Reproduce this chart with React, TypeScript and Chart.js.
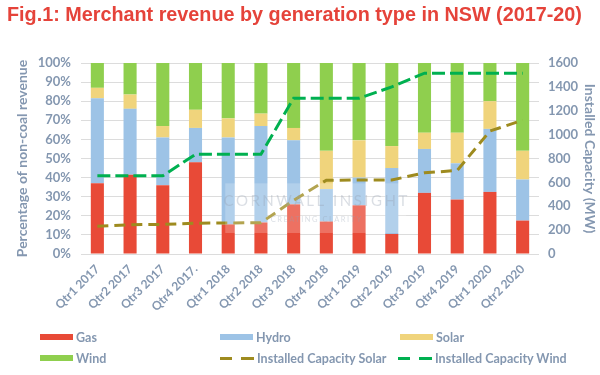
import React, { useEffect, useRef } from "react";
import { Chart, registerables } from "chart.js";

Chart.register(...registerables);

const categories = [
  "Qtr1 2017", "Qtr2 2017", "Qtr3 2017", "Qtr4 2017.", "Qtr1 2018", "Qtr2 2018", "Qtr3 2018",
  "Qtr4 2018", "Qtr1 2019", "Qtr2 2019", "Qtr3 2019", "Qtr4 2019", "Qtr1 2020", "Qtr2 2020",
];
const gas = [37, 41.5, 36, 48, 15.5, 16.5, 26, 17, 25.5, 10.5, 32, 28.5, 32.5, 17.5];
const hydro = [44.5, 34.5, 25, 18, 45.5, 50.5, 33.5, 17, 14.5, 34.5, 23, 19, 33, 21.5];
const solar = [5.5, 7.5, 6, 9.5, 10, 6.5, 6.5, 20, 19.5, 11.5, 8.5, 16, 14.5, 15];
const wind = [13, 16.5, 33, 24.5, 29, 26.5, 34, 46, 40.5, 43.5, 36.5, 36.5, 20, 46];
const capSolar = [232, 245, 248, 258, 260, 262, 450, 618, 620, 620, 680, 700, 1030, 1120];
const capWind = [655, 655, 655, 835, 835, 835, 1305, 1305, 1305, 1400, 1515, 1515, 1515, 1515];

const TEXT = "#8497b0";
const FONT = "Lato, 'Liberation Sans', sans-serif";
const C_GAS = "#e84a37";
const C_HYDRO = "#9dc3e6";
const C_SOLAR = "#f0d47c";
const C_WIND = "#8fcf4e";
const C_CAPSOLAR = "#9e8b1f";
const C_CAPWIND = "#00b050";

const watermark = {
  id: "watermark",
  afterDatasetsDraw(chart: any) {
    const { ctx, chartArea } = chart;
    const w = chartArea.right - chartArea.left;
    const h = chartArea.bottom - chartArea.top;
    const x0 = chartArea.left + w * 0.315;
    const x1 = chartArea.left + w * 0.71;
    const y0 = chartArea.top + h * 0.63;
    const y1 = chartArea.top + h * 0.89;
    ctx.save();
    ctx.fillStyle = "rgba(255,255,255,0.22)";
    ctx.fillRect(x0, y0, x1 - x0, y1 - y0);
    ctx.fillStyle = "rgba(150,160,178,0.35)";
    ctx.textAlign = "center";
    ctx.textBaseline = "middle";
    ctx.font = `15px ${FONT}`;
    (ctx as any).letterSpacing = "2.5px";
    ctx.fillText("CORNWALL INSIGHT", (x0 + x1) / 2 + 1, y0 + (y1 - y0) * 0.36);
    ctx.font = `7.5px ${FONT}`;
    (ctx as any).letterSpacing = "1.5px";
    ctx.fillText("CREATING CLARITY", (x0 + x1) / 2 + 1, y0 + (y1 - y0) * 0.72);
    ctx.restore();
  },
};

function Swatch({ color }: { color: string }) {
  return <div style={{ width: 33, height: 6, background: color }} />;
}
function Dash({ color }: { color: string }) {
  return (
    <div style={{ width: 34, height: 3, position: "relative" }}>
      <div style={{ position: "absolute", left: 0, top: 0, width: 12, height: 3, background: color }} />
      <div style={{ position: "absolute", left: 21, top: 0, width: 13, height: 3, background: color }} />
    </div>
  );
}

function LegendItem({ x, y, mark, label }: { x: number; y: number; mark: React.ReactNode; label: string }) {
  return (
    <div
      style={{
        position: "absolute",
        left: x,
        top: y - 9,
        height: 18,
        display: "flex",
        alignItems: "center",
        gap: 3,
        whiteSpace: "nowrap",
        font: `bold 12.5px ${FONT}`,
        color: TEXT,
      }}
    >
      {mark}
      <span>{label}</span>
    </div>
  );
}

export default function App() {
  const ref = useRef<HTMLCanvasElement>(null);
  useEffect(() => {
    if (!ref.current) return;
    const chart = new Chart(ref.current, {
      data: {
        labels: categories,
        datasets: [
          { type: "line", label: "Installed Capacity Solar", data: capSolar, yAxisID: "y1", borderColor: C_CAPSOLAR, borderWidth: 3, borderDash: [11, 6], pointRadius: 0, fill: false, order: 0 },
          { type: "line", label: "Installed Capacity Wind", data: capWind, yAxisID: "y1", borderColor: C_CAPWIND, borderWidth: 3, borderDash: [13, 5], pointRadius: 0, fill: false, order: 0 },
          { type: "bar", label: "Gas", data: gas, backgroundColor: C_GAS, yAxisID: "y", order: 1 },
          { type: "bar", label: "Hydro", data: hydro, backgroundColor: C_HYDRO, yAxisID: "y", order: 1 },
          { type: "bar", label: "Solar", data: solar, backgroundColor: C_SOLAR, yAxisID: "y", order: 1 },
          { type: "bar", label: "Wind", data: wind, backgroundColor: C_WIND, yAxisID: "y", order: 1 },
        ] as any,
      },
      options: {
        responsive: false,
        animation: false,
        datasets: { bar: { barPercentage: 0.4, categoryPercentage: 1 } },
        layout: { padding: { top: 63, left: 0, right: 0, bottom: 0 } },
        plugins: { legend: { display: false }, tooltip: { enabled: false }, title: { display: false } },
        scales: {
          x: {
            stacked: true,
            grid: { display: false, drawTicks: false },
            border: { display: false },
            ticks: { color: TEXT, font: { family: FONT, size: 12, weight: "bold" }, minRotation: 45, maxRotation: 45, padding: 8, autoSkip: false },
            afterFit: (s: any) => { s.height = 121; },
          },
          y: {
            stacked: true,
            min: 0,
            max: 100,
            grid: { color: "#dcdcdc", drawTicks: false },
            border: { display: false },
            ticks: { stepSize: 10, color: TEXT, padding: 10, font: { family: FONT, size: 13, weight: "bold" }, callback: (v: any) => v + "%" },
            title: { display: true, text: "Percentage of non-coal revenue", color: TEXT, font: { family: FONT, size: 14, weight: "bold" }, padding: { top: 14, bottom: 0 } },
            afterFit: (s: any) => { s.width = 81; },
          },
          y1: {
            position: "right",
            min: 0,
            max: 1600,
            grid: { display: false, drawTicks: false },
            border: { display: false },
            ticks: { stepSize: 200, color: TEXT, padding: 9, font: { family: FONT, size: 13, weight: "bold" }, callback: (v: any) => String(v) },
            title: { display: true, text: "Installed Capacity (MW)", color: TEXT, font: { family: FONT, size: 14, weight: "bold" }, padding: { top: 2.5, bottom: 0 } },
            afterFit: (s: any) => { s.width = 61; },
          },
        },
      } as any,
      plugins: [watermark],
    });
    return () => chart.destroy();
  }, []);

  return (
    <div style={{ position: "fixed", left: 0, top: 0, width: 600, height: 375, background: "#fff", overflow: "hidden" }}>
      <canvas ref={ref} width={600} height={375} style={{ position: "absolute", left: 0, top: 0 }} />
      <div
        style={{
          position: "absolute",
          left: 7,
          top: 3,
          font: "bold 19.8px 'Liberation Sans', Arial, sans-serif",
          color: "#e5433a",
          whiteSpace: "nowrap",
          lineHeight: "22px",
        }}
      >
        Fig.1: Merchant revenue by generation type in NSW (2017-20)
      </div>
      <LegendItem x={40} y={337} mark={<Swatch color={C_GAS} />} label="Gas" />
      <LegendItem x={220} y={337} mark={<Swatch color={C_HYDRO} />} label="Hydro" />
      <LegendItem x={400} y={337} mark={<Swatch color={C_SOLAR} />} label="Solar" />
      <LegendItem x={40} y={358} mark={<Swatch color={C_WIND} />} label="Wind" />
      <LegendItem x={220} y={358} mark={<Dash color={C_CAPSOLAR} />} label="Installed Capacity Solar" />
      <LegendItem x={398} y={358} mark={<Dash color={C_CAPWIND} />} label="Installed Capacity Wind" />
    </div>
  );
}
